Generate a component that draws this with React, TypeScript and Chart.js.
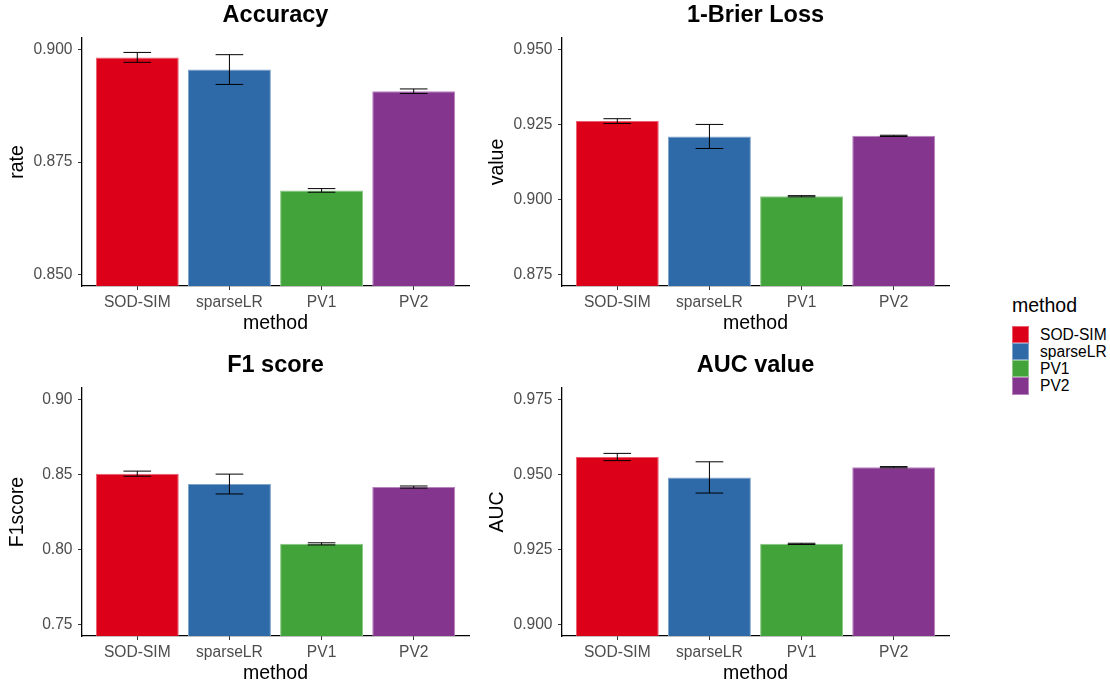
import React, { useEffect, useRef } from "react";
import { Chart, registerables } from "chart.js";

Chart.register(...registerables);

// ---------- data ----------
const methods = ["SOD-SIM", "sparseLR", "PV1", "PV2"];

const accuracyMean = [0.8982, 0.8955, 0.8687, 0.8907];
const accuracyErr = [0.0011, 0.0033, 0.0004, 0.0005];
const accuracyLimits = [0.85, 0.9];
const accuracyTicks = [0.85, 0.875, 0.9];

const brierMean = [0.9261, 0.921, 0.9011, 0.9212];
const brierErr = [0.0008, 0.004, 0.0002, 0.0002];
const brierLimits = [0.875, 0.95];
const brierTicks = [0.875, 0.9, 0.925, 0.95];

const f1Mean = [0.8505, 0.8436, 0.8038, 0.8416];
const f1Err = [0.0017, 0.0066, 0.0007, 0.0007];
const f1Limits = [0.75, 0.9];
const f1Ticks = [0.75, 0.8, 0.85, 0.9];

const aucMean = [0.9558, 0.949, 0.9269, 0.9524];
const aucErr = [0.0012, 0.0052, 0.0002, 0.0002];
const aucLimits = [0.9, 0.975];
const aucTicks = [0.9, 0.925, 0.95, 0.975];

// ---------- styles ----------
const FONT = "'Liberation Sans', Arial, Helvetica, sans-serif";
const barColors = ["#DC0019", "#2E69A8", "#42A33A", "#84368F"];
const barBorders = ["#EA6070", "#7FA3CB", "#8CC886", "#B683BD"];

type PanelProps = {
  title: string;
  yTitle: string;
  means: number[];
  errs: number[];
  limits: number[];
  ticks: number[];
  digits: number;
};

function Panel({ title, yTitle, means, errs, limits, ticks, digits }: PanelProps) {
  const ref = useRef<HTMLCanvasElement | null>(null);

  useEffect(() => {
    if (!ref.current) return;
    const span = limits[1] - limits[0];
    const errorBarPlugin = {
      id: "errorBars",
      afterDatasetsDraw(chart: any) {
        const ctx = chart.ctx;
        const xs = chart.scales.x;
        const ys = chart.scales.y;
        const half = xs.getPixelForValue(0.15) - xs.getPixelForValue(0);
        ctx.save();
        ctx.strokeStyle = "#000000";
        ctx.lineWidth = 1;
        means.forEach((m, i) => {
          const x = xs.getPixelForValue(i);
          const yt = ys.getPixelForValue(m + errs[i]);
          const yb = ys.getPixelForValue(m - errs[i]);
          ctx.beginPath();
          ctx.moveTo(x, yt);
          ctx.lineTo(x, yb);
          ctx.moveTo(x - half, yt);
          ctx.lineTo(x + half, yt);
          ctx.moveTo(x - half, yb);
          ctx.lineTo(x + half, yb);
          ctx.stroke();
        });
        ctx.restore();
      },
    };

    const chart = new Chart(ref.current, {
      type: "bar",
      data: {
        datasets: [
          {
            data: means.map((v, i) => ({ x: i, y: v })),
            backgroundColor: barColors,
            borderColor: barBorders,
            borderWidth: 1,
            barPercentage: 0.9,
            categoryPercentage: 1,
          } as any,
        ],
      },
      options: {
        animation: false,
        responsive: false,
        devicePixelRatio: 1,
        layout: { padding: { left: 0, right: 11, top: 0, bottom: 0 } },
        plugins: {
          legend: { display: false },
          tooltip: { enabled: false },
          title: {
            display: true,
            text: title,
            fullSize: false,
            color: "#000000",
            font: { family: FONT, size: 23.5, weight: "bold" },
            padding: { top: 1, bottom: 8.8 },
          },
        },
        scales: {
          x: {
            type: "linear",
            offset: false,
            min: -0.6,
            max: 3.6,
            afterBuildTicks: (s: any) => {
              s.ticks = methods.map((_, i) => ({ value: i }));
            },
            afterFit: (s: any) => {
              s.height = 54;
            },
            ticks: {
              autoSkip: false,
              maxRotation: 0,
              padding: 3,
              color: "#4D4D4D",
              font: { family: FONT, size: 15.6 },
              callback: (v: any) => methods[Math.round(Number(v))],
            },
            grid: {
              offset: false,
              drawOnChartArea: false,
              drawTicks: true,
              tickLength: 4,
              color: "#333333",
              lineWidth: 1,
            },
            border: { display: true, color: "#000000", width: 1.3 },
            title: {
              display: true,
              text: "method",
              color: "#000000",
              font: { family: FONT, size: 19.5 },
              padding: { top: 0, bottom: 5 },
            },
          },
          y: {
            type: "linear",
            min: limits[0] - span * 0.05,
            max: limits[1] + span * 0.05,
            afterBuildTicks: (s: any) => {
              s.ticks = ticks.map((v) => ({ value: v }));
            },
            afterFit: (s: any) => {
              s.width = 82;
            },
            ticks: {
              padding: 5.5,
              color: "#4D4D4D",
              font: { family: FONT, size: 15.6 },
              callback: (v: any) => Number(v).toFixed(digits),
            },
            grid: {
              drawOnChartArea: false,
              drawTicks: true,
              tickLength: 4,
              color: "#333333",
              lineWidth: 1,
            },
            border: { display: true, color: "#000000", width: 1.3 },
            title: {
              display: true,
              text: yTitle,
              color: "#000000",
              font: { family: FONT, size: 19.5 },
              padding: { top: 6, bottom: 0 },
            },
          },
        },
      } as any,
      plugins: [errorBarPlugin],
    });
    return () => chart.destroy();
  }, []);

  return <canvas ref={ref} width={480} height={340} style={{ width: 480, height: 340, display: "block" }} />;
}

function Legend() {
  return (
    <div style={{ position: "absolute", left: 1012, top: 294, fontFamily: FONT, color: "#000" }}>
      <div style={{ fontSize: 19.5, lineHeight: "22.4px", height: 31.5 }}>method</div>
      {methods.map((m, i) => (
        <div key={m} style={{ display: "flex", alignItems: "center", height: 17.3 }}>
          <div
            style={{
              width: 17.3,
              height: 17.3,
              boxSizing: "border-box",
              background: barColors[i],
              border: `1px solid ${barBorders[i]}`,
            }}
          />
          <div style={{ marginLeft: 10.7, fontSize: 15.6, lineHeight: "17.3px", whiteSpace: "nowrap" }}>{m}</div>
        </div>
      ))}
    </div>
  );
}

export default function App() {
  return (
    <div
      style={{
        position: "fixed",
        left: 0,
        top: 0,
        width: 1110,
        height: 682,
        overflow: "hidden",
        background: "#ffffff",
      }}
    >
      <div style={{ position: "absolute", left: 0, top: 0 }}>
        <Panel title="Accuracy" yTitle="rate" means={accuracyMean} errs={accuracyErr} limits={accuracyLimits} ticks={accuracyTicks} digits={3} />
      </div>
      <div style={{ position: "absolute", left: 480, top: 0 }}>
        <Panel title="1-Brier Loss" yTitle="value" means={brierMean} errs={brierErr} limits={brierLimits} ticks={brierTicks} digits={3} />
      </div>
      <div style={{ position: "absolute", left: 0, top: 350 }}>
        <Panel title="F1 score" yTitle="F1score" means={f1Mean} errs={f1Err} limits={f1Limits} ticks={f1Ticks} digits={2} />
      </div>
      <div style={{ position: "absolute", left: 480, top: 350 }}>
        <Panel title="AUC value" yTitle="AUC" means={aucMean} errs={aucErr} limits={aucLimits} ticks={aucTicks} digits={3} />
      </div>
      <Legend />
    </div>
  );
}
